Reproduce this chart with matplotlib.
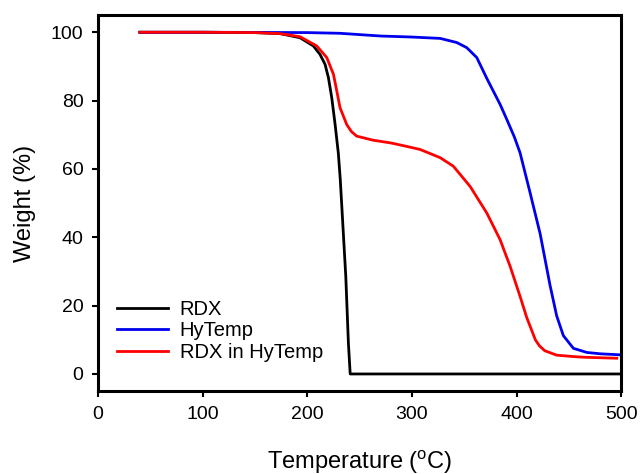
import matplotlib
matplotlib.use("Agg")
import matplotlib.pyplot as plt

plt.rcParams["font.family"] = ["Liberation Sans", "DejaVu Sans"]

# TGA curves (temperature in degC, weight in %)
rdx_t = [40, 100, 150, 174, 193, 205.8, 212.2, 217, 220.2, 223.4, 226.6, 229.7, 231.5, 233,
         236.8, 239.3, 241, 300, 400, 499]
rdx_w = [100, 100, 99.9, 99.6, 98.4, 96, 93.5, 90.6, 86.7, 80.8, 73, 64.5, 57, 49,
         28.5, 9, 0, 0, 0, 0]

hytemp_t = [40, 100, 200, 231, 270, 300, 327, 342.8, 352.4, 362, 371.6, 384.3, 390.7,
            398, 403.4, 413, 422.6, 432, 438.4, 444.8, 454.4, 467.2, 480, 499]
hytemp_w = [100, 100, 99.9, 99.7, 98.9, 98.6, 98.2, 97, 95.5, 92.6, 86.5, 78.9, 74.5,
            69.3, 64.7, 53, 41, 26, 17, 11.2, 7.5, 6.3, 5.9, 5.6]

mix_t = [40, 100, 150, 174, 193, 209, 218.6, 225, 228.2, 231.3, 237.7, 242, 247.2, 263,
         280, 295, 307.8, 327, 339.6, 355.6, 371.6, 384.3, 393.9, 403.4, 409.8, 418,
         422, 427, 438.4, 454, 464, 495.8]
mix_w = [100, 100, 99.9, 99.6, 98.7, 96, 92.6, 87.7, 82.8, 77.9, 73, 71, 69.6, 68.4,
         67.6, 66.6, 65.7, 63.3, 60.8, 54.9, 47.1, 39.3, 31.5, 22.7, 16.5, 10,
         8.2, 6.8, 5.5, 5.1, 4.9, 4.6]

x_ticks = [0, 100, 200, 300, 400, 500]
y_ticks = [0, 20, 40, 60, 80, 100]

fig = plt.figure(figsize=(6.41, 4.74), dpi=100)
ax = fig.add_axes([0.153, 0.175, 0.816, 0.793])

ax.plot(rdx_t, rdx_w, color="black", lw=2.0, label="RDX")
ax.plot(hytemp_t, hytemp_w, color="#0000ee", lw=2.0, label="HyTemp")
ax.plot(mix_t, mix_w, color="#ff0000", lw=2.0, label="RDX in HyTemp")

ax.set_xlim(0, 500)
ax.set_ylim(-5, 105)
ax.set_xticks(x_ticks)
ax.set_yticks(y_ticks)
ax.tick_params(direction="out", length=4.5, width=1.5, labelsize=14, pad=6)
for sp in ax.spines.values():
    sp.set_linewidth(2.2)

ax.set_xlabel("Temperature ($^\\mathregular{o}$C)", fontsize=17, labelpad=18)
ax.set_ylabel("Weight (%)", fontsize=17, labelpad=11)

ax.legend(loc="upper left", bbox_to_anchor=(0.01, 0.28), frameon=False, fontsize=14.5,
          handlelength=2.5, handletextpad=0.6, labelspacing=0.12, borderaxespad=0.3)

fig.savefig("out.png", dpi=100)
